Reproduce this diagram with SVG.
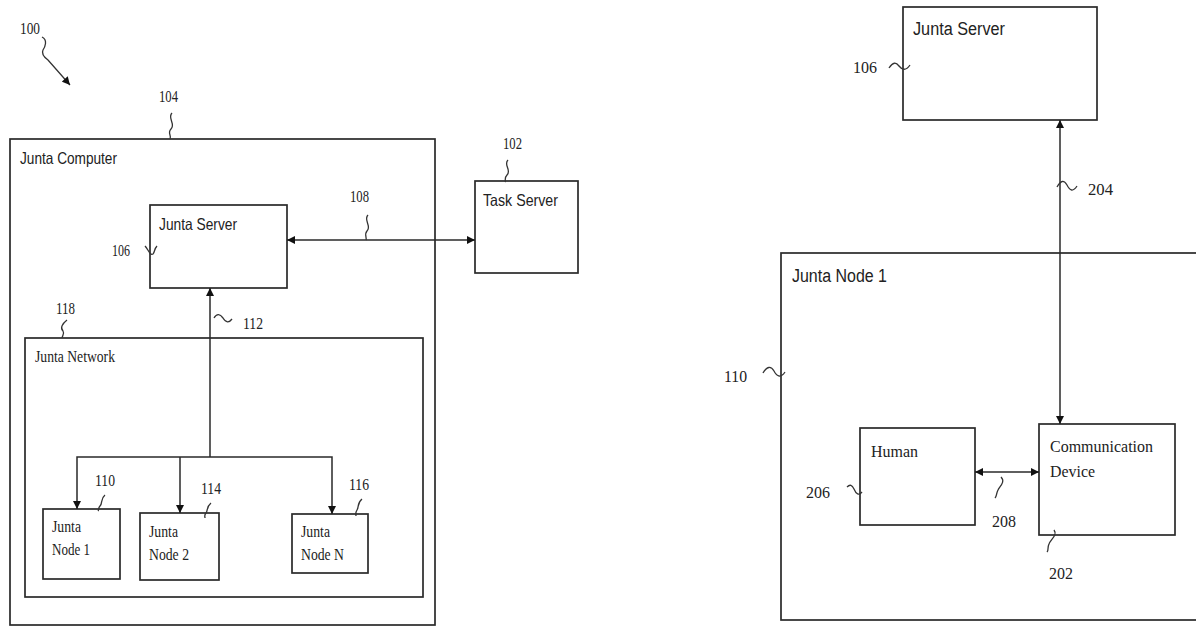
<svg xmlns="http://www.w3.org/2000/svg" width="1196" height="627" viewBox="0 0 1196 627">
<style>
.box{fill:none;stroke:#2a2a2a;stroke-width:1.7}
.ln{fill:none;stroke:#2a2a2a;stroke-width:1.5}
.sq{fill:none;stroke:#333;stroke-width:1.3}
.sans{font-family:"Liberation Sans",Arial,sans-serif;fill:#222}
.serif{font-family:"Liberation Serif","Times New Roman",serif;fill:#222}
.num{font-family:"Liberation Serif","Times New Roman",serif;fill:#222}
</style>
<defs>
<marker id="ah" viewBox="0 0 10 10" refX="10" refY="5" markerWidth="9" markerHeight="8" markerUnits="userSpaceOnUse" orient="auto-start-reverse">
<path d="M0,0 L10,5 L0,10 z" fill="#111"/>
</marker>
</defs>
<rect width="1196" height="627" fill="#fff"/>

<!-- Left figure -->
<g id="ref100">
<text class="num" x="20" y="34" font-size="16" textLength="20" lengthAdjust="spacingAndGlyphs">100</text>
<path class="sq" d="M42,37 C48,40 45,47 43,50 C41,54 44,57 48,60 L70,85" marker-end="url(#ah)"/>
</g>

<g id="junta-computer">
<rect class="box" x="10" y="139" width="425" height="486"/>
<text class="sans" x="20" y="164" font-size="16.5" textLength="97" lengthAdjust="spacingAndGlyphs">Junta Computer</text>
<text class="num" x="159" y="102" font-size="16" textLength="19" lengthAdjust="spacingAndGlyphs">104</text>
<path class="sq" d="M172,113 C167,118 176,124 171,129 C167,133 172,136 170,139"/>
</g>

<g id="junta-server-left">
<rect class="box" x="150" y="205" width="137" height="83"/>
<text class="sans" x="159" y="230" font-size="16.5" textLength="78" lengthAdjust="spacingAndGlyphs">Junta Server</text>
<text class="num" x="112" y="256" font-size="16" textLength="18" lengthAdjust="spacingAndGlyphs">106</text>
<path class="sq" d="M145,246 C148,249 150,256 153,254 C155,252 154,249 157,246"/>
</g>

<g id="task-server">
<rect class="box" x="475" y="181" width="103" height="92"/>
<text class="sans" x="483" y="206" font-size="16.5" textLength="75" lengthAdjust="spacingAndGlyphs">Task Server</text>
<text class="num" x="503" y="149" font-size="16" textLength="19" lengthAdjust="spacingAndGlyphs">102</text>
<path class="sq" d="M508,160 C503,165 512,170 507,175 C504,178 506,181 505,182"/>
</g>

<g id="junta-network">
<rect class="box" x="25" y="338" width="398" height="259"/>
<text class="serif" x="35" y="362" font-size="16" textLength="80" lengthAdjust="spacingAndGlyphs">Junta Network</text>
<text class="num" x="56" y="314" font-size="16" textLength="19" lengthAdjust="spacingAndGlyphs">118</text>
<path class="sq" d="M67,320 C62,324 60,328 63,331 C65,334 62,336 62,338"/>
</g>

<g id="junta-node-1-small">
<rect class="box" x="43" y="509" width="77" height="70"/>
<text class="serif" x="52" y="532" font-size="16" textLength="29" lengthAdjust="spacingAndGlyphs">Junta</text>
<text class="serif" x="52" y="555" font-size="16" textLength="38" lengthAdjust="spacingAndGlyphs">Node 1</text>
<text class="num" x="95" y="486" font-size="16" textLength="20" lengthAdjust="spacingAndGlyphs">110</text>
<path class="sq" d="M105,495 C100,499 103,503 100,506 C98,508 99,510 98,511"/>
</g>

<g id="junta-node-2">
<rect class="box" x="140" y="513" width="79" height="67"/>
<text class="serif" x="149" y="537" font-size="16" textLength="29" lengthAdjust="spacingAndGlyphs">Junta</text>
<text class="serif" x="149" y="560" font-size="16" textLength="40" lengthAdjust="spacingAndGlyphs">Node 2</text>
<text class="num" x="201" y="494" font-size="16" textLength="20" lengthAdjust="spacingAndGlyphs">114</text>
<path class="sq" d="M211,503 C206,507 208,511 206,513 C204,515 205,517 205,518"/>
</g>

<g id="junta-node-n">
<rect class="box" x="292" y="514" width="76" height="59"/>
<text class="serif" x="301" y="537" font-size="16" textLength="29" lengthAdjust="spacingAndGlyphs">Junta</text>
<text class="serif" x="301" y="560" font-size="16" textLength="43" lengthAdjust="spacingAndGlyphs">Node N</text>
<text class="num" x="349" y="490" font-size="16" textLength="20" lengthAdjust="spacingAndGlyphs">116</text>
<path class="sq" d="M362,499 C357,503 359,507 357,510 C355,513 356,515 356,516"/>
</g>

<!-- Right figure -->
<g id="junta-server-right">
<rect class="box" x="903" y="7" width="194" height="113"/>
<text class="sans" x="913" y="35" font-size="18" textLength="92" lengthAdjust="spacingAndGlyphs">Junta Server</text>
<text class="num" x="853" y="73" font-size="17" textLength="24" lengthAdjust="spacingAndGlyphs">106</text>
<path class="sq" d="M889,68 C893,62 896,62 899,66 C902,70 906,71 910,65"/>
</g>

<g id="junta-node-1-large">
<rect class="box" x="781" y="253" width="430" height="367"/>
<text class="sans" x="792" y="282" font-size="18" textLength="95" lengthAdjust="spacingAndGlyphs">Junta Node 1</text>
<text class="num" x="724" y="382" font-size="17" textLength="23" lengthAdjust="spacingAndGlyphs">110</text>
<path class="sq" d="M763,373 C767,366 771,366 774,371 C777,377 781,378 785,372"/>
</g>

<g id="human">
<rect class="box" x="860" y="428" width="115" height="97"/>
<text class="serif" x="871" y="457" font-size="17" textLength="47" lengthAdjust="spacingAndGlyphs">Human</text>
<text class="num" x="806" y="498" font-size="17" textLength="24" lengthAdjust="spacingAndGlyphs">206</text>
<path class="sq" d="M847,487 C850,484 852,485 854,489 C856,494 859,496 862,492"/>
</g>

<g id="communication-device">
<rect class="box" x="1039" y="424" width="136" height="111"/>
<text class="serif" x="1050" y="452" font-size="17" textLength="103" lengthAdjust="spacingAndGlyphs">Communication</text>
<text class="serif" x="1050" y="477" font-size="17" textLength="45" lengthAdjust="spacingAndGlyphs">Device</text>
<text class="num" x="1049" y="579" font-size="17" textLength="24" lengthAdjust="spacingAndGlyphs">202</text>
<path class="sq" d="M1054,530 C1058,535 1050,540 1049,544 C1047,548 1049,550 1047,552"/>
</g>

<g id="connectors">
<!-- 108 -->
<line class="ln" x1="287" y1="240" x2="475" y2="240" marker-start="url(#ah)" marker-end="url(#ah)"/>
<text class="num" x="350" y="202" font-size="16" textLength="19" lengthAdjust="spacingAndGlyphs">108</text>
<path class="sq" d="M368,215 C363,220 372,226 367,231 C364,234 367,238 366,240"/>
<!-- 112 -->
<line class="ln" x1="210" y1="457" x2="210" y2="288" marker-end="url(#ah)"/>
<text class="num" x="243" y="329" font-size="16" textLength="20" lengthAdjust="spacingAndGlyphs">112</text>
<path class="sq" d="M214,318 C217,313 220,314 223,318 C226,323 229,323 232,319"/>
<!-- branches -->
<polyline class="ln" points="77,509 77,457 332,457 332,514" marker-start="url(#ah)" marker-end="url(#ah)"/>
<line class="ln" x1="180" y1="457" x2="180" y2="513" marker-end="url(#ah)"/>
<!-- 204 -->
<line class="ln" x1="1060" y1="424" x2="1060" y2="120" marker-start="url(#ah)" marker-end="url(#ah)"/>
<text class="num" x="1088" y="195" font-size="17" textLength="25" lengthAdjust="spacingAndGlyphs">204</text>
<path class="sq" d="M1057,187 C1061,180 1064,180 1067,185 C1070,191 1073,192 1077,186"/>
<!-- 208 -->
<line class="ln" x1="975" y1="472" x2="1039" y2="472" marker-start="url(#ah)" marker-end="url(#ah)"/>
<text class="num" x="992" y="527" font-size="17" textLength="24" lengthAdjust="spacingAndGlyphs">208</text>
<path class="sq" d="M1001,477 C1006,482 999,487 998,490 C996,494 997,496 995,498"/>
</g>
</svg>
